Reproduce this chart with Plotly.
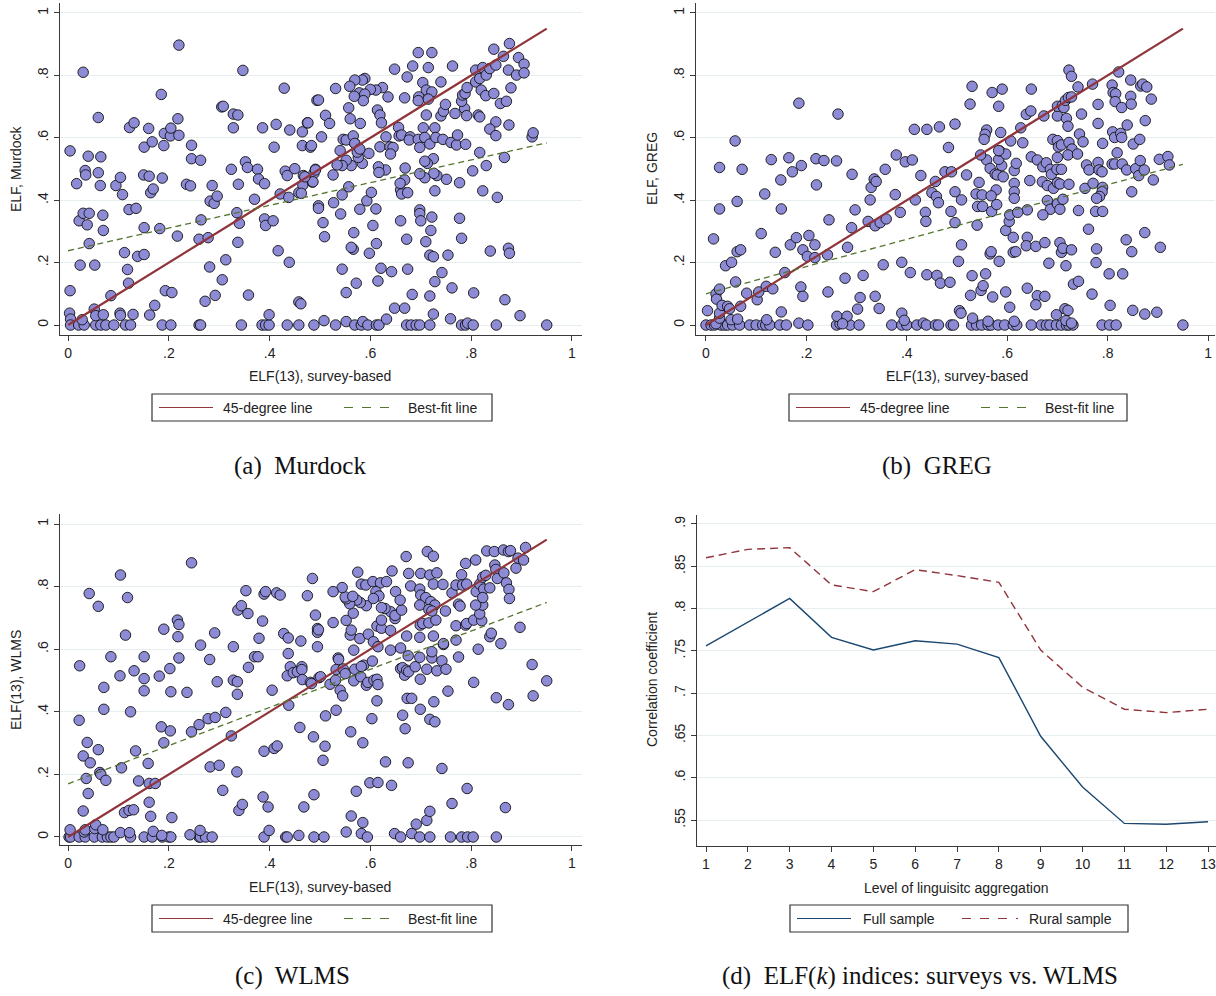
import plotly.graph_objects as go

# ---------------- data ----------------
murdock_pts = [
(0.004,0.558),(0.004,0.110),(0.003,0.038),(0.005,0.019),
(0.005,0),(0.021,0),(0.032,0),(0.055,0),(0.065,0),(0.075,0),(0.091,0),(0.114,0),(0.124,0),(0.187,0),
(0.204,0),(0.26,0),(0.263,0),(0.344,0),(0.385,0),(0.392,0),(0.399,0),(0.435,0),(0.458,0),(0.488,0),
(0.030,0.810),(0.017,0.453),(0.040,0.541),(0.034,0.495),(0.035,0.481),(0.024,0.192),(0.022,0.334),
(0.030,0.358),(0.042,0.358),(0.038,0.321),(0.042,0.261),(0.053,0.192),(0.060,0.665),(0.065,0.539),
(0.060,0.488),(0.064,0.447),(0.069,0.352),(0.070,0.303),(0.052,0.051),(0.055,0.030),(0.070,0.033),
(0.028,0.017),(0.085,0.094),(0.095,0.447),(0.104,0.473),(0.108,0.418),(0.103,0.038),(0.104,0.031),
(0.112,0.232),(0.118,0.178),(0.120,0.134),(0.122,0.633),(0.131,0.648),(0.121,0.370),(0.135,0.374),
(0.129,0.034),(0.138,0.220),(0.151,0.226),(0.151,0.312),(0.151,0.570),(0.160,0.630),(0.150,0.481),
(0.161,0.477),(0.167,0.587),(0.164,0.424),(0.169,0.436),(0.162,0.032),(0.172,0.063),(0.182,0.309),
(0.185,0.739),(0.190,0.575),(0.187,0.471),(0.191,0.614),(0.203,0.606),(0.204,0.631),(0.193,0.110),
(0.206,0.104),(0.218,0.661),(0.220,0.608),(0.220,0.897),(0.217,0.285),(0.235,0.451),(0.243,0.446),
(0.245,0.576),(0.245,0.533),(0.263,0.528),(0.264,0.337),(0.260,0.275),(0.272,0.076),(0.278,0.280),
(0.281,0.186),(0.286,0.447),(0.282,0.397),(0.290,0.390),(0.296,0.413),(0.292,0.095),(0.305,0.699),
(0.308,0.701),(0.306,0.145),(0.313,0.209),(0.324,0.499),(0.328,0.676),(0.337,0.673),(0.328,0.632),
(0.338,0.451),(0.335,0.360),(0.340,0.326),(0.337,0.265),(0.347,0.816),(0.352,0.523),(0.356,0.505),
(0.358,0.096),(0.370,0.403),(0.376,0.499),(0.378,0.468),(0.386,0.632),(0.390,0.453),(0.390,0.340),
(0.392,0.319),(0.399,0.033),(0.407,0.334),(0.413,0.643),(0.409,0.570),(0.417,0.238),(0.421,0.420),
(0.429,0.759),(0.431,0.493),(0.435,0.479),(0.439,0.201),(0.438,0.409),(0.440,0.625),(0.450,0.501),
(0.458,0.424),(0.465,0.619),(0.465,0.575),(0.466,0.449),(0.467,0.479),(0.458,0.074),(0.462,0.068),
(0.475,0.648),(0.481,0.570),(0.485,0.458),(0.488,0.486),(0.491,0.499),(0.494,0.720),
(0.508,0.014),(0.531,0),(0.552,0.011),(0.569,0),(0.582,0),(0.585,0.011),(0.595,0),(0.612,0),(0.617,0),
(0.632,0.019),(0.648,0.054),(0.668,0.054),(0.672,0),(0.681,0),(0.691,0),(0.698,0),(0.718,0),(0.725,0.035),
(0.759,0.020),(0.781,0),(0.789,0),(0.793,0.006),(0.804,0),(0.850,0),(0.950,0),(0.897,0.030),(0.867,0.081),
(0.805,0.103),(0.762,0.119),(0.742,0.168),(0.728,0.139),(0.718,0.093),(0.683,0.098),(0.674,0.179),
(0.642,0.171),(0.621,0.182),(0.615,0.141),(0.572,0.134),(0.552,0.104),(0.544,0.179),
(0.598,0.230),(0.612,0.261),(0.605,0.319),(0.566,0.243),(0.562,0.249),(0.567,0.296),(0.509,0.283),
(0.506,0.328),(0.497,0.382),(0.497,0.374),(0.541,0.356),(0.579,0.371),(0.593,0.398),(0.611,0.372),
(0.660,0.334),(0.672,0.275),(0.698,0.369),(0.698,0.357),(0.700,0.334),(0.722,0.346),(0.720,0.303),
(0.710,0.267),(0.718,0.224),(0.725,0.219),(0.754,0.224),(0.777,0.342),(0.781,0.278),(0.838,0.237),
(0.874,0.246),(0.876,0.230),(0.852,0.409),(0.823,0.430),(0.803,0.494),(0.817,0.553),(0.830,0.511),
(0.866,0.537),(0.777,0.456),(0.751,0.467),(0.732,0.479),(0.726,0.486),(0.728,0.430),(0.725,0.533),
(0.713,0.518),(0.708,0.525),(0.708,0.472),(0.698,0.485),(0.660,0.433),(0.662,0.420),(0.668,0.465),
(0.659,0.454),(0.674,0.424),(0.669,0.503),(0.630,0.497),(0.616,0.507),(0.617,0.489),(0.602,0.425),
(0.597,0.550),(0.584,0.518),(0.576,0.537),(0.574,0.554),(0.569,0.582),(0.562,0.511),(0.552,0.528),
(0.544,0.511),(0.534,0.513),(0.557,0.443),(0.544,0.417),(0.526,0.481),(0.527,0.392),(0.491,0.497),
(0.486,0.459),(0.470,0.475),(0.463,0.422),(0.540,0.559),(0.546,0.595),(0.552,0.593),(0.566,0.606),
(0.569,0.582),(0.579,0.564),(0.619,0.571),(0.631,0.603),(0.639,0.571),(0.645,0.569),(0.640,0.548),
(0.656,0.633),(0.657,0.606),(0.662,0.609),(0.679,0.603),(0.677,0.593),(0.695,0.595),(0.698,0.569),
(0.705,0.632),(0.708,0.601),(0.718,0.580),(0.728,0.632),(0.730,0.601),(0.744,0.595),(0.760,0.585),
(0.771,0.577),(0.773,0.609),(0.789,0.579),(0.711,0.673),(0.740,0.670),(0.745,0.685),(0.749,0.707),
(0.768,0.678),(0.787,0.694),(0.791,0.671),(0.781,0.717),(0.783,0.737),(0.788,0.742),(0.792,0.761),
(0.814,0.673),(0.817,0.667),(0.809,0.779),(0.809,0.817),(0.817,0.790),(0.823,0.825),(0.830,0.801),
(0.837,0.822),(0.820,0.753),(0.829,0.735),(0.845,0.742),(0.849,0.833),(0.845,0.884),(0.858,0.710),
(0.870,0.717),(0.879,0.760),(0.864,0.861),(0.876,0.902),(0.874,0.817),(0.894,0.857),(0.890,0.801),
(0.905,0.836),(0.905,0.808),(0.849,0.651),(0.837,0.628),(0.849,0.607),(0.875,0.641),(0.921,0.603),
(0.923,0.616),(0.763,0.830),(0.740,0.779),(0.722,0.873),(0.695,0.873),(0.684,0.830),(0.673,0.795),
(0.648,0.820),(0.715,0.825),(0.704,0.777),(0.711,0.753),(0.722,0.747),(0.696,0.731),(0.695,0.719),
(0.715,0.724),(0.668,0.728),(0.635,0.731),(0.624,0.761),(0.611,0.753),(0.600,0.755),(0.589,0.790),
(0.584,0.785),(0.569,0.785),(0.559,0.765),(0.578,0.744),(0.589,0.740),(0.586,0.719),(0.568,0.733),
(0.614,0.689),(0.619,0.673),(0.622,0.648),(0.557,0.696),(0.560,0.661),(0.580,0.646),(0.531,0.758),
(0.497,0.721),(0.511,0.672),(0.519,0.646),(0.476,0.648),(0.503,0.603),(0.483,0.575),
]

greg_pts = [
(0,0),(0.010,0),(0.017,0),(0.030,0),(0.037,0),(0.043,0),(0.053,0),(0.067,0),(0.087,0),(0.1,0),(0.113,0),
(0.119,0),(0.127,0),(0.147,0),(0.16,0),(0.185,0.006),(0.203,0),(0.26,0),(0.267,0.004),(0.287,0),(0.305,0),
(0.37,0),(0.39,0),(0.4,0),(0.42,0),(0.433,0.006),(0.439,0),(0.457,0),(0.463,0),
(0.003,0.046),(0.02,0.004),(0.027,0.022),(0.05,0.017),(0.063,0.019),(0.121,0.017),(0.15,0.042),
(0.261,0.028),(0.281,0.028),(0.272,0.004),(0.39,0.038),(0.395,0.015),(0.027,0.038),
(0.015,0.276),(0.02,0.100),(0.021,0.083),(0.027,0.115),(0.027,0.372),(0.027,0.505),(0.032,0.063),
(0.043,0.060),(0.039,0.190),(0.051,0.201),(0.047,0.052),(0.059,0.138),(0.058,0.590),(0.062,0.396),
(0.062,0.235),(0.069,0.241),(0.069,0.060),(0.072,0.499),(0.081,0.102),(0.102,0.081),(0.105,0.106),
(0.11,0.293),(0.117,0.42),(0.12,0.124),(0.13,0.53),(0.133,0.116),(0.138,0.233),(0.149,0.465),
(0.15,0.372),(0.157,0.168),(0.165,0.536),(0.168,0.257),(0.172,0.491),(0.18,0.280),(0.185,0.711),
(0.19,0.511),(0.189,0.122),(0.193,0.092),(0.193,0.241),(0.202,0.220),(0.205,0.287),(0.217,0.257),
(0.217,0.216),(0.219,0.533),(0.22,0.449),(0.235,0.527),(0.242,0.225),(0.243,0.106),(0.245,0.337),
(0.26,0.526),(0.263,0.676),(0.277,0.150),(0.282,0.249),(0.29,0.312),(0.291,0.483),(0.297,0.369),
(0.302,0.051),(0.307,0.088),(0.313,0.159),(0.323,0.332),(0.327,0.401),(0.329,0.441),(0.335,0.468),
(0.339,0.460),(0.337,0.318),(0.337,0.092),(0.345,0.053),(0.347,0.328),(0.353,0.193),(0.359,0.340),
(0.357,0.499),(0.379,0.545),(0.377,0.418),(0.387,0.361),(0.39,0.201),(0.397,0.523),(0.407,0.168),
(0.411,0.529),(0.415,0.627),(0.417,0.401),(0.428,0.479),(0.437,0.361),(0.438,0.332),(0.44,0.627),
(0.44,0.161),(0.45,0.424),(0.457,0.460),(0.459,0.412),(0.46,0.159),(0.463,0.392),(0.465,0.635),(0.467,0.134),
(0.488,0),(0.493,0),(0.529,0),(0.539,0),(0.549,0),(0.562,0),(0.568,0),(0.582,0),(0.595,0),(0.612,0),
(0.619,0),(0.648,0),(0.668,0),(0.678,0),(0.685,0),(0.698,0),(0.708,0),(0.718,0),(0.723,0),(0.731,0),
(0.789,0),(0.804,0),(0.817,0),(0.950,0),
(0.505,0.046),(0.508,0.038),(0.531,0.022),(0.562,0.012),(0.614,0.012),(0.698,0.033),(0.715,0.052),
(0.721,0.047),(0.717,0.014),(0.728,0.006),(0.805,0.063),(0.85,0.047),(0.874,0.035),(0.898,0.041),
(0.486,0.137),(0.503,0.204),(0.509,0.257),(0.527,0.095),(0.53,0.158),(0.548,0.111),(0.552,0.126),
(0.557,0.164),(0.571,0.090),(0.566,0.228),(0.568,0.235),(0.584,0.204),(0.597,0.303),(0.604,0.332),
(0.605,0.353),(0.612,0.281),(0.612,0.233),(0.617,0.235),(0.597,0.106),(0.605,0.057),(0.64,0.118),
(0.64,0.281),(0.638,0.254),(0.657,0.252),(0.66,0.094),(0.657,0.065),(0.675,0.092),(0.675,0.264),
(0.683,0.198),(0.705,0.264),(0.708,0.233),(0.711,0.246),(0.728,0.241),(0.717,0.190),(0.732,0.131),
(0.742,0.140),(0.769,0.099),(0.762,0.307),(0.777,0.200),(0.778,0.244),(0.803,0.164),(0.83,0.164),
(0.837,0.273),(0.848,0.235),(0.874,0.296),(0.905,0.249),
(0.488,0.364),(0.496,0.328),(0.496,0.427),(0.509,0.401),(0.476,0.491),(0.489,0.491),(0.519,0.481),
(0.544,0.457),(0.538,0.420),(0.55,0.417),(0.541,0.380),(0.551,0.380),(0.54,0.320),(0.569,0.364),
(0.579,0.386),(0.578,0.433),(0.568,0.414),(0.559,0.529),(0.566,0.502),(0.576,0.484),(0.58,0.481),
(0.592,0.475),(0.589,0.511),(0.583,0.531),(0.585,0.558),(0.597,0.548),(0.607,0.590),(0.631,0.584),
(0.614,0.495),(0.618,0.518),(0.614,0.454),(0.614,0.427),(0.614,0.406),(0.645,0.463),(0.648,0.539),
(0.66,0.529),(0.671,0.507),(0.678,0.520),(0.67,0.459),(0.68,0.447),(0.686,0.499),(0.688,0.483),
(0.692,0.438),(0.699,0.499),(0.68,0.399),(0.686,0.371),(0.671,0.353),(0.64,0.369),(0.621,0.361),
(0.7,0.456),(0.705,0.452),(0.7,0.388),(0.705,0.371),(0.711,0.403),(0.723,0.451),(0.708,0.499),
(0.742,0.367),(0.755,0.438),(0.758,0.513),(0.763,0.497),(0.771,0.454),(0.781,0.521),(0.783,0.497),
(0.789,0.491),(0.79,0.441),(0.789,0.427),(0.784,0.412),(0.778,0.406),(0.776,0.364),(0.79,0.364),
(0.809,0.516),(0.814,0.516),(0.829,0.516),(0.838,0.497),(0.856,0.501),(0.862,0.479),(0.865,0.527),
(0.873,0.497),(0.891,0.465),(0.903,0.531),(0.92,0.540),(0.923,0.513),(0.848,0.427),
(0.496,0.644),(0.483,0.569),(0.526,0.708),(0.53,0.765),(0.57,0.745),(0.59,0.756),(0.583,0.701),
(0.559,0.625),(0.556,0.611),(0.554,0.595),(0.587,0.617),(0.547,0.545),(0.583,0.559),(0.627,0.632),
(0.638,0.675),(0.647,0.686),(0.648,0.756),(0.673,0.670),(0.7,0.670),(0.7,0.701),(0.71,0.704),
(0.713,0.697),(0.716,0.720),(0.722,0.729),(0.728,0.731),(0.718,0.662),(0.721,0.637),(0.723,0.817),
(0.728,0.797),(0.741,0.763),(0.748,0.676),(0.744,0.612),(0.751,0.587),(0.691,0.595),(0.7,0.591),
(0.702,0.571),(0.708,0.577),(0.723,0.585),(0.729,0.564),(0.721,0.545),(0.74,0.548),(0.7,0.537),
(0.77,0.772),(0.781,0.707),(0.781,0.646),(0.79,0.582),(0.809,0.769),(0.811,0.745),(0.816,0.741),
(0.815,0.716),(0.822,0.811),(0.828,0.697),(0.81,0.619),(0.814,0.601),(0.826,0.614),(0.828,0.601),
(0.839,0.641),(0.819,0.552),(0.846,0.785),(0.846,0.733),(0.847,0.708),(0.851,0.580),(0.864,0.595),
(0.875,0.655),(0.866,0.766),(0.87,0.772),(0.878,0.763),(0.887,0.724),
]

wlms_pts = [
(0.002,0),(0.005,0),(0.022,0),(0.034,0),(0.052,0),(0.068,0),(0.078,0),(0.085,0),(0.091,0),(0.124,0),
(0.151,0),(0.167,0),(0.187,0),(0.2,0),(0.204,0),(0.26,0),(0.263,0),(0.273,0),(0.286,0),(0.389,0),
(0.432,0),(0.435,0),(0.488,0),
(0.004,0.023),(0.032,0.016),(0.034,0.023),(0.053,0.027),(0.055,0.039),(0.069,0.023),(0.104,0.014),
(0.122,0.014),(0.169,0.018),(0.186,0.005),(0.242,0.007),(0.262,0.021),(0.399,0.021),(0.458,0.005),
(0.022,0.373),(0.023,0.547),(0.03,0.259),(0.03,0.083),(0.036,0.187),(0.038,0.302),(0.042,0.778),
(0.044,0.237),(0.04,0.139),(0.06,0.737),(0.06,0.279),(0.063,0.206),(0.065,0.200),(0.071,0.478),
(0.071,0.408),(0.075,0.181),(0.085,0.576),(0.103,0.515),(0.104,0.837),(0.106,0.221),(0.114,0.645),
(0.118,0.765),(0.112,0.078),(0.124,0.400),(0.121,0.085),(0.13,0.087),(0.131,0.531),(0.134,0.275),
(0.14,0.179),(0.151,0.576),(0.151,0.506),(0.151,0.467),(0.159,0.235),(0.161,0.171),(0.161,0.111),
(0.164,0.066),(0.173,0.171),(0.181,0.514),(0.185,0.352),(0.19,0.664),(0.19,0.301),(0.202,0.538),
(0.204,0.464),(0.203,0.339),(0.206,0.062),(0.217,0.693),(0.22,0.679),(0.218,0.640),(0.22,0.572),
(0.236,0.462),(0.245,0.876),(0.245,0.336),(0.26,0.359),(0.263,0.613),(0.278,0.378),(0.282,0.224),
(0.281,0.567),(0.291,0.652),(0.292,0.382),(0.296,0.496),(0.3,0.229),(0.307,0.149),(0.313,0.398),
(0.324,0.323),(0.328,0.608),(0.328,0.501),(0.336,0.496),(0.336,0.456),(0.335,0.208),(0.337,0.725),
(0.344,0.739),(0.339,0.085),(0.346,0.104),(0.353,0.787),(0.357,0.714),(0.358,0.542),(0.37,0.576),
(0.377,0.576),(0.379,0.635),(0.386,0.690),(0.389,0.776),(0.392,0.784),(0.389,0.274),(0.387,0.128),
(0.397,0.096),(0.409,0.283),(0.415,0.291),(0.405,0.469),(0.414,0.780),(0.421,0.773),(0.428,0.650),
(0.437,0.636),(0.437,0.586),(0.441,0.544),(0.435,0.515),(0.438,0.421),(0.447,0.525),(0.455,0.528),
(0.46,0.350),(0.462,0.626),(0.464,0.544),(0.464,0.535),(0.465,0.503),(0.468,0.096),(0.475,0.771),
(0.481,0.494),(0.485,0.826),(0.487,0.320),(0.488,0.135),(0.491,0.709),(0.495,0.666),(0.495,0.654),
(0.495,0.608),(0.498,0.509),
(0.508,0),(0.552,0.016),(0.582,0.011),(0.594,0),(0.648,0.011),(0.66,0),(0.682,0.011),(0.698,0),
(0.718,0),(0.759,0),(0.781,0),(0.793,0),(0.804,0),(0.85,0),(0.691,0.041),(0.712,0.053),(0.718,0.082),
(0.762,0.107),(0.792,0.155),(0.868,0.094),(0.585,0.046),(0.562,0.067),(0.572,0.146),(0.599,0.173),
(0.615,0.174),(0.642,0.165),(0.63,0.240),(0.675,0.237),(0.742,0.219),(0.506,0.245),(0.51,0.290),
(0.561,0.336),(0.585,0.301),(0.511,0.387),(0.532,0.405),(0.603,0.378),(0.664,0.389),(0.669,0.346),
(0.699,0.408),(0.718,0.376),(0.728,0.368),(0.613,0.435),(0.673,0.443),(0.682,0.443),(0.726,0.432),
(0.754,0.466),(0.805,0.494),(0.85,0.445),(0.874,0.423),(0.921,0.551),(0.923,0.451),(0.95,0.499),
(0.699,0.504),
(0.483,0.490),(0.501,0.512),(0.52,0.488),(0.531,0.501),(0.532,0.535),(0.536,0.572),(0.54,0.469),
(0.545,0.451),(0.546,0.537),(0.55,0.522),(0.567,0.499),(0.569,0.536),(0.581,0.512),(0.587,0.549),
(0.592,0.485),(0.595,0.494),(0.604,0.562),(0.607,0.501),(0.613,0.504),(0.615,0.487),(0.66,0.538),
(0.664,0.541),(0.668,0.517),(0.672,0.533),(0.676,0.528),(0.689,0.544),(0.698,0.574),(0.712,0.536),
(0.722,0.572),(0.722,0.592),(0.732,0.531),(0.742,0.563),(0.745,0.615),(0.75,0.536),(0.775,0.575),
(0.814,0.600),(0.859,0.618),(0.897,0.670),(0.837,0.640),(0.84,0.651),(0.77,0.629),(0.537,0.567),
(0.567,0.597),(0.582,0.545),
(0.497,0.662),(0.526,0.685),(0.552,0.692),(0.56,0.645),(0.562,0.661),(0.579,0.634),(0.596,0.648),
(0.606,0.624),(0.615,0.608),(0.613,0.674),(0.622,0.667),(0.622,0.693),(0.64,0.597),(0.64,0.660),
(0.649,0.698),(0.66,0.604),(0.672,0.642),(0.675,0.579),(0.698,0.638),(0.699,0.677),(0.704,0.682),
(0.716,0.684),(0.725,0.642),(0.73,0.693),(0.745,0.618),(0.749,0.722),(0.77,0.675),(0.775,0.744),
(0.778,0.738),(0.789,0.677),(0.791,0.682),(0.805,0.693),(0.821,0.691),(0.817,0.713),(0.823,0.741),
(0.809,0.741),(0.64,0.720),(0.649,0.708),(0.662,0.725),(0.629,0.730),(0.622,0.733),(0.592,0.739),
(0.566,0.715),(0.58,0.749),(0.573,0.757),(0.559,0.745),(0.552,0.761),(0.55,0.767),(0.565,0.769),
(0.544,0.797),(0.526,0.784),
(0.575,0.846),(0.582,0.808),(0.591,0.805),(0.605,0.816),(0.62,0.812),(0.632,0.816),(0.643,0.850),
(0.611,0.784),(0.617,0.770),(0.606,0.762),(0.65,0.784),(0.659,0.757),(0.671,0.896),(0.676,0.842),
(0.68,0.802),(0.698,0.792),(0.7,0.842),(0.718,0.837),(0.713,0.912),(0.725,0.897),(0.732,0.844),
(0.725,0.808),(0.744,0.807),(0.7,0.773),(0.71,0.765),(0.72,0.752),(0.728,0.741),(0.698,0.741),
(0.716,0.727),(0.722,0.722),(0.762,0.780),(0.77,0.805),(0.781,0.838),(0.789,0.874),(0.783,0.805),
(0.791,0.808),(0.809,0.885),(0.81,0.784),(0.817,0.808),(0.823,0.830),(0.829,0.836),(0.825,0.792),
(0.823,0.765),(0.837,0.796),(0.831,0.914),(0.846,0.912),(0.847,0.869),(0.849,0.855),(0.852,0.826),
(0.865,0.844),(0.87,0.812),(0.875,0.791),(0.876,0.762),(0.864,0.917),(0.874,0.912),(0.878,0.915),
(0.889,0.859),(0.893,0.891),(0.904,0.885),(0.908,0.925),
]

# 45-degree and best-fit lines (endpoints of survey-based ELF range)
line_x = [0.0, 0.95]
fit_murdock = (0.238, 0.364)   # intercept, slope
fit_greg = (0.100, 0.437)
fit_wlms = (0.170, 0.610)

# Panel (d)
levels = list(range(1, 14))
full_sample = [0.756, 0.784, 0.812, 0.766, 0.751, 0.762, 0.758, 0.742, 0.649, 0.589, 0.546, 0.545, 0.548]
rural_sample = [0.860, 0.870, 0.872, 0.828, 0.820, 0.846, 0.839, 0.831, 0.751, 0.707, 0.681, 0.677, 0.681]

x_ticks = [0, 0.2, 0.4, 0.6, 0.8, 1]
x_ticklabels = ["0", ".2", ".4", ".6", ".8", "1"]
d_yticks = [0.55, 0.6, 0.65, 0.7, 0.75, 0.8, 0.85, 0.9]
d_yticklabels = [".55", ".6", ".65", ".7", ".75", ".8", ".85", ".9"]

# ---------------- styling ----------------
W, H = 1216, 996
FONT = "Liberation Sans, Arial, Helvetica, sans-serif"
SERIF = "Liberation Serif, Times New Roman, serif"
MARKER_FILL = "#8E8BD6"
RED = "#90353B"
GREEN = "#55752F"
NAVY = "#1A476F"
GRID = "#E6EEF0"
AXIS = "#3a3a3a"
TXT = "#222222"


def px_x(p):
    return p / W


def px_y(p):
    return 1 - p / H


fig = go.Figure()

panels = [
    ("x", "y", murdock_pts, fit_murdock),
    ("x2", "y2", greg_pts, fit_greg),
    ("x3", "y3", wlms_pts, fit_wlms),
]
for xa, ya, pts, fit in panels:
    xs = [p[0] for p in pts]
    ys = [p[1] for p in pts]
    fig.add_trace(go.Scatter(
        x=xs, y=ys, mode="markers", xaxis=xa, yaxis=ya, showlegend=False,
        marker=dict(size=10.5, color=MARKER_FILL, line=dict(color="#111111", width=0.9)),
        hoverinfo="skip"))
    fig.add_trace(go.Scatter(
        x=line_x, y=line_x, mode="lines", xaxis=xa, yaxis=ya, showlegend=False,
        name="45-degree line", line=dict(color=RED, width=2.2)))
    fig.add_trace(go.Scatter(
        x=line_x, y=[fit[0] + fit[1] * v for v in line_x], mode="lines", xaxis=xa, yaxis=ya,
        showlegend=False, name="Best-fit line", line=dict(color=GREEN, width=1.3, dash="6px,4px")))

fig.add_trace(go.Scatter(x=levels, y=full_sample, mode="lines", xaxis="x4", yaxis="y4",
                         showlegend=False, name="Full sample", line=dict(color=NAVY, width=1.4)))
fig.add_trace(go.Scatter(x=levels, y=rural_sample, mode="lines", xaxis="x4", yaxis="y4",
                         showlegend=False, name="Rural sample",
                         line=dict(color=RED, width=1.4, dash="8px,5px")))

common_x = dict(showgrid=False, zeroline=False, showline=True, linecolor=AXIS, linewidth=1.2,
                ticks="outside", ticklen=5, tickcolor=AXIS, tickwidth=1.2, automargin=False,
                ticklabeloverflow="allow",
                tickfont=dict(family=FONT, size=14, color=TXT))
common_y = dict(showgrid=True, gridcolor=GRID, gridwidth=1.2, zeroline=False, showline=True,
                linecolor=AXIS, linewidth=1.2, ticks="outside", ticklen=5, tickcolor=AXIS,
                tickwidth=1.2, tickangle=-90, automargin=False, ticklabeloverflow="allow",
                tickfont=dict(family=FONT, size=14, color=TXT))

dom_ab_y = [px_y(335), px_y(3)]
dom_c_y = [px_y(845), px_y(514)]

fig.update_layout(
    width=W, height=H, margin=dict(l=0, r=0, t=0, b=0, autoexpand=False),
    paper_bgcolor="white", plot_bgcolor="white",
    font=dict(family=FONT, size=14, color=TXT),
    showlegend=False,
    xaxis=dict(domain=[px_x(60), px_x(582)], range=[-0.016, 1.02], anchor="y",
               tickvals=x_ticks, ticktext=x_ticklabels, **common_x),
    yaxis=dict(domain=dom_ab_y, range=[-0.032, 1.032], anchor="x",
               tickvals=x_ticks, ticktext=x_ticklabels, **common_y),
    xaxis2=dict(domain=[px_x(696), px_x(1215)], range=[-0.0199, 1.0139], anchor="y2",
                tickvals=x_ticks, ticktext=x_ticklabels, **common_x),
    yaxis2=dict(domain=dom_ab_y, range=[-0.032, 1.032], anchor="x2",
                tickvals=x_ticks, ticktext=x_ticklabels, **common_y),
    xaxis3=dict(domain=[px_x(60), px_x(582)], range=[-0.016, 1.02], anchor="y3",
                tickvals=x_ticks, ticktext=x_ticklabels, **common_x),
    yaxis3=dict(domain=dom_c_y, range=[-0.0256, 1.032], anchor="x3",
                tickvals=x_ticks, ticktext=x_ticklabels, **common_y),
    xaxis4=dict(domain=[px_x(697), 1.0], range=[0.785, 13.19], anchor="y4",
                tickvals=levels, ticktext=[str(v) for v in levels], **common_x),
    yaxis4=dict(domain=[px_y(846), px_y(515)], range=[0.5193, 0.9106], anchor="x4",
                tickvals=d_yticks, ticktext=d_yticklabels, **common_y),
)

# axis titles
axis_titles = [
    ("ELF(13), survey-based", 320, 376, 0),
    ("ELF, Murdock", 16, 169, -90),
    ("ELF(13), survey-based", 957, 376, 0),
    ("ELF, GREG", 652, 169, -90),
    ("ELF(13), survey-based", 320, 887, 0),
    ("ELF(13), WLMS", 16, 680, -90),
    ("Level of linguisitc aggregation", 956, 888, 0),
    ("Correlation coefficient", 652, 680, -90),
]
for text, cx, cy, ang in axis_titles:
    fig.add_annotation(text=text, x=px_x(cx), y=px_y(cy), xref="paper", yref="paper",
                       showarrow=False, xanchor="center", yanchor="middle", textangle=ang,
                       font=dict(family=FONT, size=14, color=TXT))

# legends (boxed, Stata style)
legend_specs = [
    (152, 492, 394, [(159, 213, 221, "45-degree line", RED, "solid"),
                     (344, 398, 406, "Best-fit line", GREEN, "dash")]),
    (789, 1127, 394, [(796, 850, 858, "45-degree line", RED, "solid"),
                      (981, 1035, 1043, "Best-fit line", GREEN, "dash")]),
    (152, 492, 905, [(159, 213, 221, "45-degree line", RED, "solid"),
                     (344, 398, 406, "Best-fit line", GREEN, "dash")]),
    (790, 1128, 905, [(797, 851, 861, "Full sample", NAVY, "solid"),
                      (962, 1018, 1027, "Rural sample", RED, "dash")]),
]
for bl, br, bt, entries in legend_specs:
    bb = bt + 27
    fig.add_shape(type="rect", xref="paper", yref="paper",
                  x0=px_x(bl), x1=px_x(br), y0=px_y(bb), y1=px_y(bt),
                  line=dict(color="#333333", width=1.2), fillcolor="white")
    cy = (bt + bb) / 2
    for lx0, lx1, tx, label, col, dash in entries:
        fig.add_shape(type="line", xref="paper", yref="paper",
                      x0=px_x(lx0), x1=px_x(lx1), y0=px_y(cy), y1=px_y(cy),
                      line=dict(color=col, width=1.2, dash=dash))
        fig.add_annotation(text=label, x=px_x(tx), y=px_y(cy), xref="paper", yref="paper",
                           showarrow=False, xanchor="left", yanchor="middle",
                           font=dict(family=FONT, size=14, color=TXT))

captions = [
    ("(a)  Murdock", 300, 466),
    ("(b)  GREG", 937, 466),
    ("(c)  WLMS", 292, 976),
    ("(d)  ELF(<i>k</i>) indices: surveys vs. WLMS", 920, 976),
]
for text, cx, cy in captions:
    fig.add_annotation(text=text, x=px_x(cx), y=px_y(cy), xref="paper", yref="paper",
                       showarrow=False, xanchor="center", yanchor="middle",
                       font=dict(family=SERIF, size=25, color="#111"))

# remove the default 8px page margin so the figure fills the window exactly
fig.write_html("out.html", config={"displayModeBar": False},
               post_script="document.body.style.margin='0';")
